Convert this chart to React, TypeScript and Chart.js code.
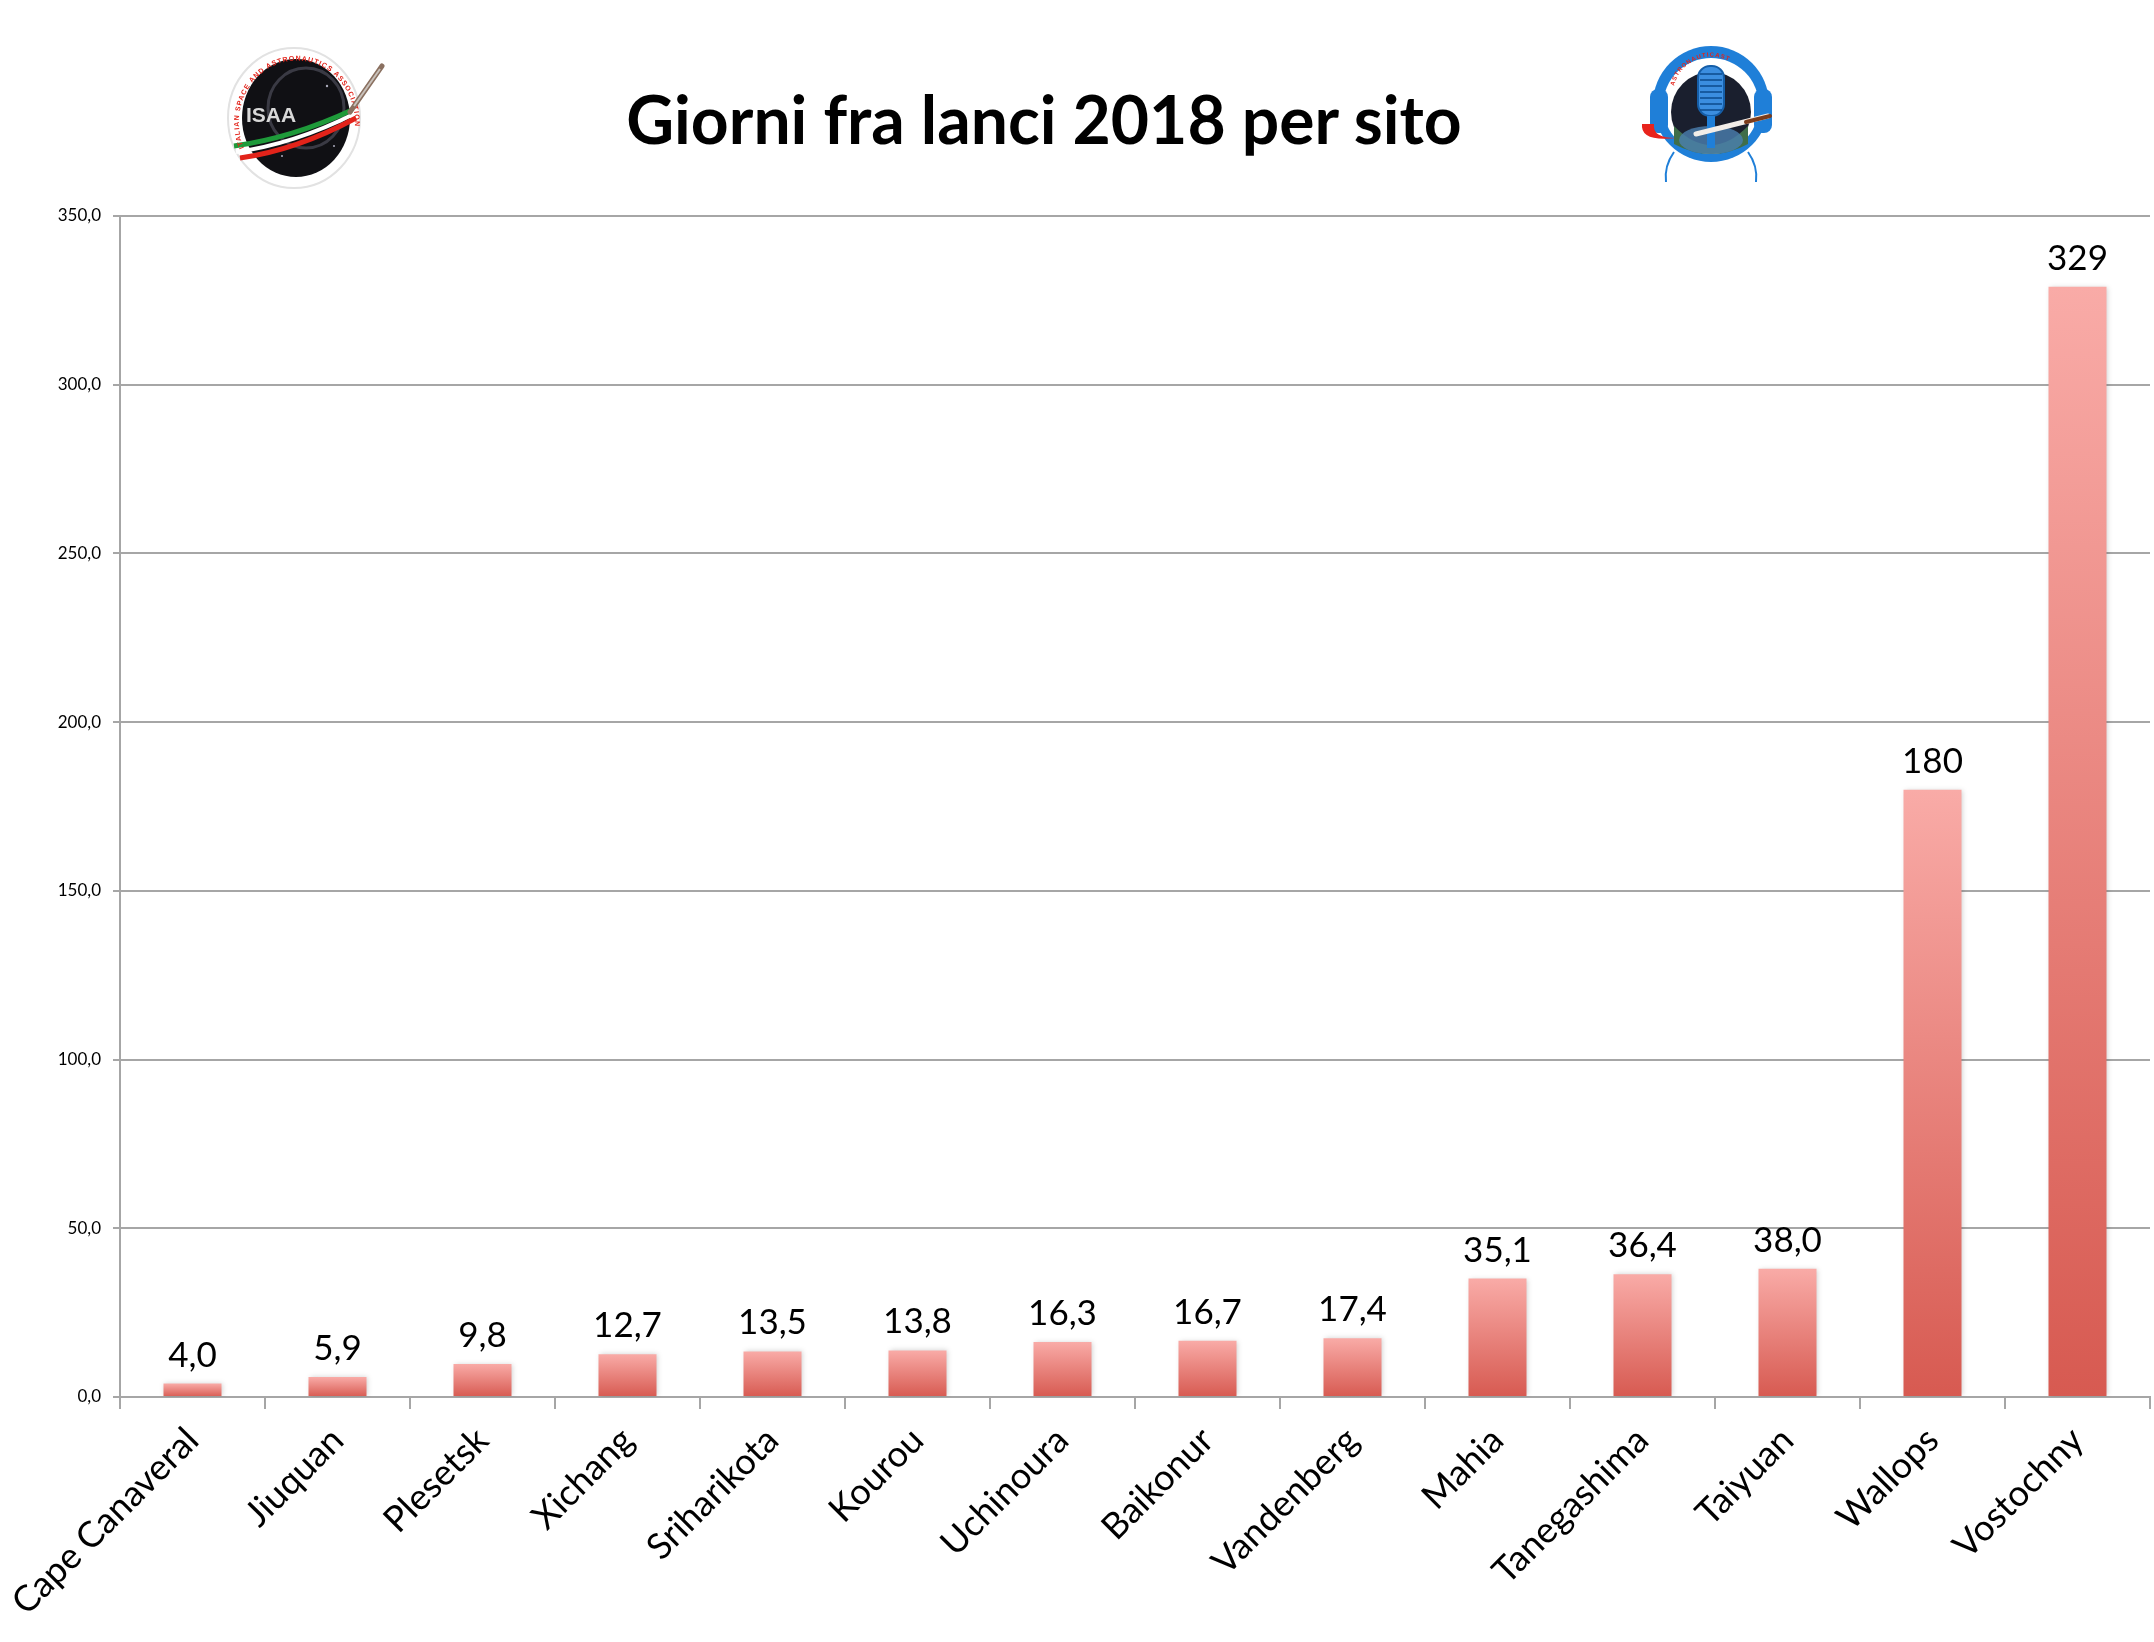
import React, { useEffect, useRef } from 'react';
import { Chart, registerables } from 'chart.js';

Chart.register(...registerables);

const siti = [
  'Cape Canaveral', 'Jiuquan', 'Plesetsk', 'Xichang', 'Sriharikota', 'Kourou', 'Uchinoura',
  'Baikonur', 'Vandenberg', 'Mahia', 'Tanegashima', 'Taiyuan', 'Wallops', 'Vostochny',
];
const giorni = [4.0, 5.9, 9.8, 12.7, 13.5, 13.8, 16.3, 16.7, 17.4, 35.1, 36.4, 38.0, 180, 329];

const yMax = 350;
const yStep = 50;

const GRID = '#a6a6a6';
const FONT = 'Lato, "Open Sans", sans-serif';

const fmtTick = (v: number) => v.toFixed(1).replace('.', ',');
const fmtValue = (v: number) => (v >= 100 ? String(Math.round(v)) : v.toFixed(1).replace('.', ','));

const barShadow = {
  id: 'barShadow',
  beforeDatasetsDraw(chart: any) {
    const ctx = chart.ctx;
    ctx.save();
    ctx.shadowColor = 'rgba(0,0,0,0.18)';
    ctx.shadowBlur = 5;
    ctx.shadowOffsetX = 1;
    ctx.shadowOffsetY = 0;
  },
  afterDatasetsDraw(chart: any) {
    const ctx = chart.ctx;
    ctx.restore();
    // value labels above each bar
    const meta = chart.getDatasetMeta(0);
    ctx.save();
    ctx.fillStyle = '#000';
    ctx.font = `35px ${FONT}`;
    ctx.textAlign = 'center';
    ctx.textBaseline = 'alphabetic';
    meta.data.forEach((bar: any, i: number) => {
      ctx.fillText(fmtValue(giorni[i]), bar.x, bar.y - 17);
    });
    ctx.restore();
  },
};

const IsaaLogo: React.FC = () => (
  <svg width="170" height="160" viewBox="0 0 170 160" style={{ position: 'absolute', left: 222, top: 36 }}>
    <defs>
      <path id="ringIsaa" d="M 22 112 A 58 62 0 1 1 118 128" />
    </defs>
    <ellipse cx="72" cy="82" rx="66" ry="70" fill="#fff" stroke="#e2e2e2" strokeWidth="2" />
    <ellipse cx="74" cy="82" rx="54" ry="59" fill="#101014" />
    <ellipse cx="84" cy="72" rx="38" ry="40" fill="none" stroke="#3a3a44" strokeWidth="3" />
    <circle cx="105" cy="50" r="1.2" fill="#aab" />
    <circle cx="60" cy="120" r="1" fill="#aab" />
    <circle cx="112" cy="110" r="1" fill="#aab" />
    <text x="24" y="86" fill="#d8d8d8" fontFamily="Arial, sans-serif" fontWeight="700" fontSize="21">ISAA</text>
    <path d="M 12 110 Q 70 102 130 74" stroke="#1e9a3a" strokeWidth="5" fill="none" />
    <path d="M 14 116 Q 72 108 132 78" stroke="#ffffff" strokeWidth="4" fill="none" />
    <path d="M 18 122 Q 75 114 134 82" stroke="#e2231a" strokeWidth="5" fill="none" />
    <text fill="#e2231a" fontFamily="Arial, sans-serif" fontWeight="700" fontSize="7" letterSpacing="1">
      <textPath href="#ringIsaa">ITALIAN SPACE AND ASTRONAUTICS ASSOCIATION</textPath>
    </text>
    <line x1="128" y1="76" x2="160" y2="30" stroke="#8a7060" strokeWidth="5" strokeLinecap="round" />
    <line x1="132" y1="70" x2="158" y2="33" stroke="#c9c2bb" strokeWidth="2" />
  </svg>
);

const RadioLogo: React.FC = () => (
  <svg width="150" height="150" viewBox="0 0 150 150" style={{ position: 'absolute', left: 1636, top: 34 }}>
    <defs>
      <path id="ringRadio" d="M 38 52 A 38 38 0 0 1 112 52" />
    </defs>
    <circle cx="75" cy="70" r="58" fill="#1f7fd8" />
    <circle cx="75" cy="72" r="48" fill="#ffffff" />
    <circle cx="75" cy="78" r="40" fill="#1a1f2e" />
    <path d="M 38 92 Q 75 130 112 92 L 112 110 Q 75 130 38 110 Z" fill="#3f6e4a" />
    <ellipse cx="75" cy="106" rx="32" ry="14" fill="#4b7fb0" opacity="0.8" />
    <rect x="62" y="32" width="26" height="50" rx="12" fill="#3b8ee0" stroke="#155ea8" strokeWidth="2" />
    {[40, 46, 52, 58, 64, 70, 76].map((y) => (
      <line key={y} x1="64" y1={y} x2="86" y2={y} stroke="#0d4a8c" strokeWidth="1.5" />
    ))}
    <rect x="71" y="82" width="8" height="32" fill="#1f7fd8" />
    <rect x="14" y="55" width="18" height="44" rx="8" fill="#1f7fd8" />
    <rect x="118" y="55" width="18" height="44" rx="8" fill="#1f7fd8" />
    <path d="M 6 90 Q 4 108 40 104 Q 16 104 18 90 Z" fill="#e8231c" />
    <line x1="60" y1="100" x2="132" y2="82" stroke="#f2ede8" strokeWidth="5" strokeLinecap="round" />
    <line x1="110" y1="88" x2="134" y2="82" stroke="#7a3c1c" strokeWidth="4" strokeLinecap="round" />
    <path d="M 38 118 Q 28 132 30 148" stroke="#1f7fd8" strokeWidth="2" fill="none" />
    <path d="M 112 118 Q 122 132 120 148" stroke="#1f7fd8" strokeWidth="2" fill="none" />
    <text fill="#e2231a" fontFamily="Arial, sans-serif" fontWeight="700" fontSize="6" letterSpacing="1">
      <textPath href="#ringRadio">ASTRONAUTICAST</textPath>
    </text>
  </svg>
);

const App: React.FC = () => {
  const chartRef = useRef<HTMLCanvasElement>(null);
  const chartInstance = useRef<Chart | null>(null);

  useEffect(() => {
    document.body.style.margin = '0';
    if (!chartRef.current) return;
    if (chartInstance.current) {
      chartInstance.current.destroy();
    }
    const ctx = chartRef.current.getContext('2d');
    if (!ctx) return;

    chartInstance.current = new Chart(ctx, {
      type: 'bar',
      data: {
        labels: siti,
        datasets: [{
          label: 'Giorni fra lanci',
          data: giorni,
          backgroundColor: (c: any) => {
            const yScale = c.chart.scales?.y;
            const v = giorni[c.dataIndex];
            if (!yScale || v === undefined) return '#e57b74';
            const top = yScale.getPixelForValue(v);
            const bottom = yScale.getPixelForValue(0);
            if (!isFinite(top) || !isFinite(bottom) || top === bottom) return '#e57b74';
            const g = c.chart.ctx.createLinearGradient(0, top, 0, bottom);
            g.addColorStop(0, '#f9aba7');
            g.addColorStop(1, '#d75a51');
            return g;
          },
          borderWidth: 0,
          barPercentage: 0.4,
          categoryPercentage: 1,
        }],
      },
      options: {
        responsive: true,
        maintainAspectRatio: false,
        animation: false,
        events: [],
        layout: {
          padding: { top: 216, right: 4, left: 0, bottom: 0 },
        },
        plugins: {
          legend: { display: false },
          tooltip: { enabled: false },
          title: { display: false },
        },
        scales: {
          x: {
            grid: {
              offset: true,
              drawOnChartArea: false,
              tickLength: 12,
              color: GRID,
              lineWidth: 2,
            },
            border: { color: GRID, width: 2 },
            ticks: {
              autoSkip: false,
              maxRotation: 45,
              minRotation: 45,
              padding: 10,
              color: '#000',
              font: { family: FONT, size: 36 },
            },
            afterFit: (scale: any) => {
              scale.height = 245;
            },
          },
          y: {
            min: 0,
            max: yMax,
            grid: {
              color: GRID,
              lineWidth: 2,
              tickLength: 7,
            },
            border: { color: GRID, width: 2 },
            ticks: {
              stepSize: yStep,
              padding: 12,
              color: '#000',
              font: { family: FONT, size: 17 },
              callback: (v: any) => fmtTick(Number(v)),
            },
            afterFit: (scale: any) => {
              scale.width = 120;
            },
          },
        },
      },
      plugins: [barShadow],
    });

    return () => {
      if (chartInstance.current) {
        chartInstance.current.destroy();
        chartInstance.current = null;
      }
    };
  }, []);

  return (
    <div style={{ position: 'relative', width: 2154, height: 1642, background: '#fff', overflow: 'hidden' }}>
      <div style={{ position: 'absolute', left: 0, top: 0, width: 2154, height: 1642 }}>
        <canvas ref={chartRef}></canvas>
      </div>
      <IsaaLogo />
      <RadioLogo />
      <div
        style={{
          position: 'absolute',
          left: 0,
          width: 2088,
          top: 86,
          textAlign: 'center',
          fontFamily: FONT,
          fontWeight: 700,
          fontSize: 66,
          lineHeight: '66px',
          color: '#000',
          whiteSpace: 'nowrap',
        }}
      >
        Giorni fra lanci 2018 per sito
      </div>
    </div>
  );
};

export default App;
